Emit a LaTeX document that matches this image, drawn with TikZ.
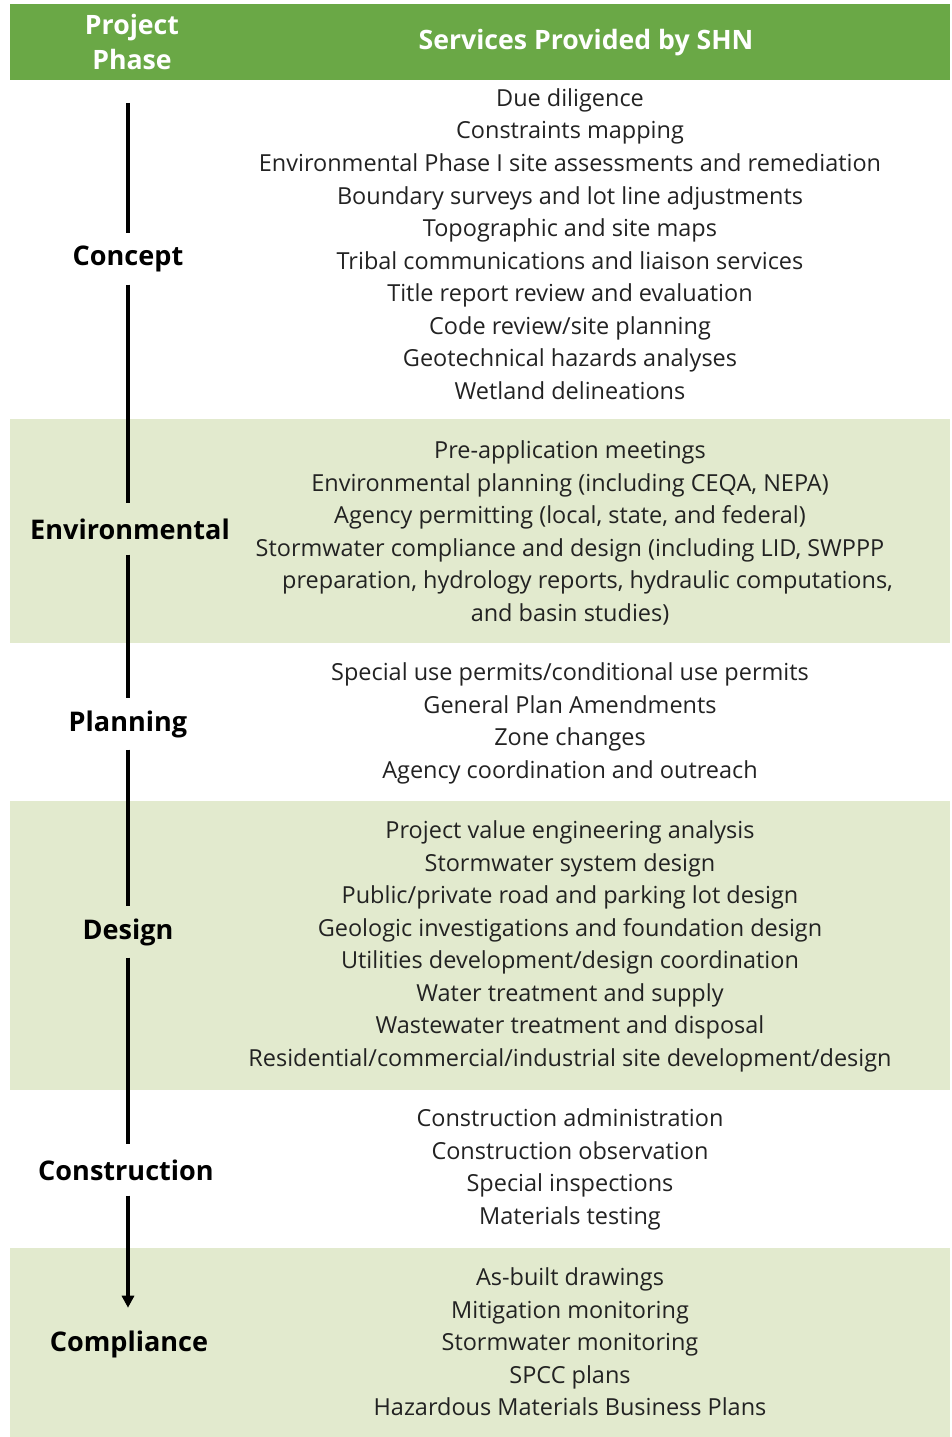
\documentclass[tikz,border=0pt]{standalone}
\usepackage{fontspec}
\setmainfont{Open Sans}
\usetikzlibrary{arrows.meta}
\definecolor{hdrgreen}{RGB}{106,168,70}
\definecolor{bandgreen}{RGB}{226,234,206}
\definecolor{svctext}{RGB}{34,34,34}
\begin{document}
\begin{tikzpicture}[x=0.75pt,y=-0.75pt,
    head/.style={align=center,text=white,inner sep=0pt,font=\fontsize{20}{26}\selectfont\bfseries},
    phase/.style={inner sep=0pt,minimum height=38pt,font=\fontsize{20.3}{24}\selectfont\bfseries},
    svc/.style={align=center,inner sep=0pt,text=svctext,font=\fontsize{17.6}{24.4}\selectfont},
    timeline/.style={line width=3pt}]
    \useasboundingbox (0,0) rectangle (952,1437);
    % header and bands
    \fill[hdrgreen] (10,4) rectangle (950,80);
    \foreach \a/\b in {419/643,801/1090,1248/1437}
    \fill[bandgreen] (10,\a) rectangle (950,\b);
    \node[head] (hphase) at (132,42) {Project\\Phase};
    \node[head] (hsvc) at (586,43) {Services Provided by SHN};
    % phases
    \node[phase] (concept) at (128,259) {Concept};
    \node[phase] (environ) at (130,529) {Environmental};
    \node[phase] (planning) at (128,724) {Planning};
    \node[phase] (design) at (128,932) {Design};
    \node[phase] (constr) at (126,1170) {Construction};
    \node[phase] (compl) at (129,1344) {Compliance};
    \coordinate (start) at (128,103);
    % services
    \node[svc] (sconcept) at (570,244) {Due diligence\\Constraints mapping\\
        Environmental Phase I site assessments and remediation\\
        Boundary surveys and lot line adjustments\\Topographic and site maps\\
        Tribal communications and liaison services\\Title report review and evaluation\\
        Code review/site planning\\Geotechnical hazards analyses\\Wetland delineations};
    \node[svc] (senviron) at (570,533) {Pre-application meetings\\
        Environmental planning (including CEQA, NEPA)\\
        Agency permitting (local, state, and federal)\\
        Stormwater compliance and design (including LID, SWPPP\\
        \hspace*{1.5em}preparation, hydrology reports, hydraulic computations,\\
        and basin studies)};
    \node[svc] (splanning) at (570,723.5) {Special use permits/conditional use permits\\
        General Plan Amendments\\Zone changes\\Agency coordination and outreach};
    \node[svc] (sdesign) at (570,946.5) {Project value engineering analysis\\
        Stormwater system design\\Public/private road and parking lot design\\
        Geologic investigations and foundation design\\
        Utilities development/design coordination\\Water treatment and supply\\
        Wastewater treatment and disposal\\
        Residential/commercial/industrial site development/design};
    \node[svc] (sconstr) at (570,1169.5) {Construction administration\\
        Construction observation\\Special inspections\\Materials testing};
    \node[svc] (scompl) at (570,1342) {As-built drawings\\Mitigation monitoring\\
        Stormwater monitoring\\SPCC plans\\Hazardous Materials Business Plans};
    % timeline
    \draw[timeline] (start) -- (concept.north);
    \foreach \a/\b in {concept/environ,environ/planning,planning/design,design/constr}
    \draw[timeline] (\a.south-|start) -- (\b.north-|start);
    \draw[timeline,-{Triangle[width=9pt,length=9pt]}] (constr.south-|start) -- ([yshift=8pt]compl.north-|start);
\end{tikzpicture}
\end{document}
